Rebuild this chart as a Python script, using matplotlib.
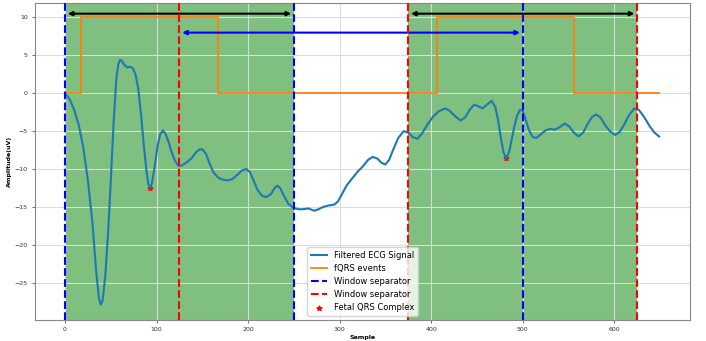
import numpy as np
import matplotlib.pyplot as plt

# filtered ECG signal (sample index, amplitude in uV)
ecg_x = [0, 5, 10, 15, 20, 25, 30, 34, 37, 39, 41, 44, 47, 50, 53, 56, 58, 60, 62, 65,
         68, 71, 74, 77, 80, 83, 86, 89, 91, 93, 95, 98, 101, 104, 107, 110, 113, 116, 120, 124,
         128, 133, 138, 143, 147, 150, 154, 158, 162, 167, 172, 178, 183, 188, 193, 198, 202, 206, 210, 215,
         220, 225, 229, 232, 235, 239, 244, 249, 255, 260, 266, 272, 277, 282, 288, 294, 298, 303, 308, 314,
         320, 325, 331, 336, 341, 346, 350, 354, 359, 364, 370, 375, 380, 385, 390, 396, 402, 408, 415, 420,
         426, 432, 437, 442, 447, 451, 456, 461, 466, 470, 473, 476, 479, 482, 485, 488, 491, 494, 497, 500,
         503, 507, 511, 515, 520, 525, 530, 535, 540, 546, 551, 556, 561, 566, 571, 576, 580, 585, 590, 596,
         601, 606, 611, 616, 622, 627, 633, 639, 644, 649]
ecg_y = [0.0, -0.8, -2.2, -4.2, -7.2, -11.5, -17.2, -23.5, -27.0, -27.9, -27.4, -24.0, -18.5, -11.5, -4.0, 1.8, 3.7, 4.4, 4.3, 3.7,
         3.4, 3.5, 3.3, 2.5, 0.6, -2.8, -6.8, -10.3, -12.0, -12.5, -11.8, -9.6, -7.0, -5.4, -4.9, -5.4, -6.4, -7.6, -8.9, -9.6,
         -9.5, -9.1, -8.6, -7.8, -7.4, -7.4, -8.0, -9.3, -10.4, -11.1, -11.4, -11.5, -11.3, -10.8, -10.2, -10.0, -10.4, -11.5, -12.7, -13.5,
         -13.7, -13.3, -12.5, -12.2, -12.5, -13.5, -14.6, -15.1, -15.3, -15.3, -15.2, -15.5, -15.3, -15.0, -14.8, -14.7, -14.3, -13.2, -12.1, -11.2,
         -10.3, -9.7, -8.8, -8.4, -8.6, -9.2, -9.4, -8.8, -7.3, -5.9, -5.0, -5.2, -5.8, -6.0, -5.3, -4.1, -3.1, -2.4, -2.0, -2.3,
         -3.0, -3.6, -3.2, -2.2, -1.5, -1.7, -2.0, -1.5, -1.0, -1.8, -3.5, -5.8, -7.8, -8.6, -7.8, -6.1, -4.3, -2.9, -2.2, -2.3,
         -3.4, -4.9, -5.8, -5.9, -5.4, -4.9, -4.7, -4.8, -4.5, -4.0, -4.4, -5.2, -5.7, -5.2, -4.0, -3.1, -2.8, -3.2, -4.2, -5.1,
         -5.5, -5.1, -4.1, -2.9, -2.0, -2.2, -3.2, -4.4, -5.2, -5.7]

# fQRS event windows (step signal)
fqrs_x = [0, 17, 17, 167, 167, 406, 406, 556, 556, 649]
fqrs_y = [0, 0, 10, 10, 0, 0, 10, 10, 0, 0]

# detected fetal QRS complexes
fetal_x = [93, 482]
fetal_y = [-12.5, -8.6]

# windows: (start, end) and separators
windows = [(0, 250), (375, 625)]
blue_sep = [0, 250, 500]
red_sep = [125, 375, 625]

fig = plt.figure(figsize=(7.06, 3.41), dpi=100)
ax = fig.add_axes([0.05, 0.062, 0.927, 0.929])

ax.plot(ecg_x, ecg_y, color='#1f77b4', lw=1.5, label='Filtered ECG Signal', zorder=3)
ax.plot(fqrs_x, fqrs_y, color='#ff7f0e', lw=1.3, label='fQRS events', zorder=3)

for i, x in enumerate(blue_sep):
    ax.axvline(x, color='b', ls='--', lw=1.5, label='Window separator' if i == 0 else None, zorder=4)
for i, x in enumerate(red_sep):
    ax.axvline(x, color='r', ls='--', lw=1.5, label='Window separator' if i == 0 else None, zorder=4)

for a, b in windows:
    ax.axvspan(a, b, color='green', alpha=0.5, lw=0)

ax.scatter(fetal_x, fetal_y, marker='*', color='red', s=12, label='Fetal QRS Complex', zorder=2)

# window extents
for a, b in windows:
    ax.annotate('', xy=(b, 10.5), xytext=(a, 10.5),
                arrowprops=dict(arrowstyle='<|-|>', color='black', lw=1.5, mutation_scale=6))
ax.annotate('', xy=(500, 8), xytext=(125, 8),
            arrowprops=dict(arrowstyle='<|-|>', color='blue', lw=1.5, mutation_scale=6))

ax.set_xlim(-32.5, 682.5)
ax.set_ylim(-29.9, 11.9)
ax.set_xticks([0, 100, 200, 300, 400, 500, 600])
ax.set_yticks([-25, -20, -15, -10, -5, 0, 5, 10])
ax.grid(True, color='#dcdcdc', lw=0.8)
ax.tick_params(labelsize=4.5, length=2, width=0.5, colors='#333333')
for s in ax.spines.values():
    s.set_color('#888888')
ax.set_xlabel('Sample', fontsize=4.5, fontweight='bold', labelpad=2)
ax.set_ylabel('Amplitude(uV)', fontsize=4.5, fontweight='bold', labelpad=2)

ax.legend(loc='lower center', fontsize=6, framealpha=0.8)

fig.savefig('out.png', dpi=100)
